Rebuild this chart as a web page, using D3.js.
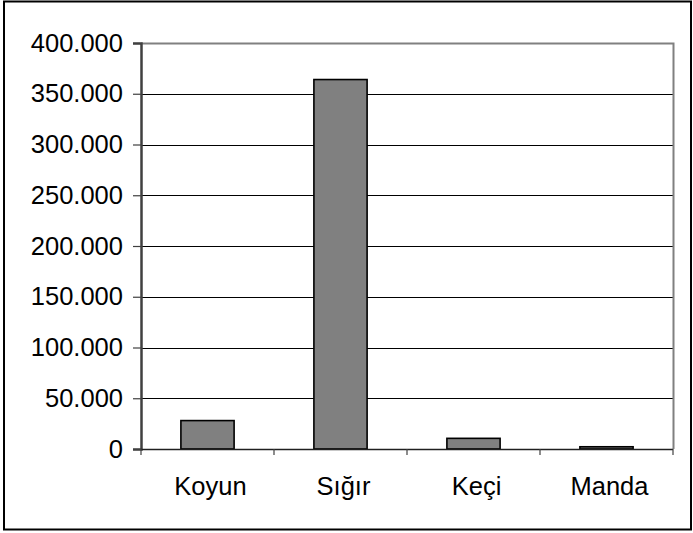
<!DOCTYPE html>
<html><head><meta charset="utf-8">
<script src="https://cdn.jsdelivr.net/npm/d3@7"></script>
<style>body{margin:0;background:#fff}svg{display:block}</style>
</head><body>
<svg id="c" width="693" height="533"></svg>
<script>
const categories = ["Koyun", "Sığır", "Keçi", "Manda"];
const values = [28000, 364000, 10500, 2200];
const yTicks = [0, 50000, 100000, 150000, 200000, 250000, 300000, 350000, 400000];
const yTickLabels = ["0", "50.000", "100.000", "150.000", "200.000", "250.000", "300.000", "350.000", "400.000"];

const svg = d3.select("#c");
const font = "'Liberation Sans', Arial, sans-serif";
const L = 141, R = 673, T = 43, B = 449;

svg.append("rect").attr("x", 4).attr("y", 1.5).attr("width", 687).attr("height", 528)
  .attr("fill", "#fff").attr("stroke", "#000").attr("stroke-width", 2);

const x = d3.scaleBand().domain(categories).range([L, R]).paddingInner(0.6).paddingOuter(0.3);
const xb = d3.scaleBand().domain(categories).range([L, R]);
const y = d3.scaleLinear().domain([0, 400000]).range([B, T]);

// gridlines
svg.append("g").selectAll("line").data(yTicks.slice(1, -1)).join("line")
  .attr("x1", L).attr("x2", R).attr("y1", d => Math.round(y(d)) + 0.5).attr("y2", d => Math.round(y(d)) + 0.5)
  .attr("stroke", "#000").attr("stroke-width", 1);
// plot border top/right
svg.append("path").attr("d", `M${L},${T + 0.5}H${R + 0.5}V${B}`)
  .attr("fill", "none").attr("stroke", "#808080").attr("stroke-width", 2);

// bars
svg.append("g").selectAll("rect").data(values).join("rect")
  .attr("x", (d, i) => x(categories[i]))
  .attr("width", x.bandwidth())
  .attr("y", d => y(d))
  .attr("height", d => B - y(d))
  .attr("fill", "#808080").attr("stroke", "#000").attr("stroke-width", 1.6);

// y axis
const yAxis = d3.axisLeft(y).tickValues(yTicks).tickFormat((d, i) => yTickLabels[i]).tickSize(8).tickPadding(10);
const gy = svg.append("g").attr("transform", `translate(${L},0)`).call(yAxis);
gy.select(".domain").attr("stroke", "#404040").attr("stroke-width", 2.5);
gy.selectAll(".tick line").attr("stroke", "#404040").attr("stroke-width", 1.2);
gy.selectAll("text").attr("font-family", font).attr("font-size", 25.5).attr("fill", "#000");

// x axis
const gx = svg.append("g").attr("transform", `translate(0,${B})`);
gx.append("line").attr("x1", L).attr("x2", R).attr("y1", 0.5).attr("y2", 0.5).attr("stroke", "#202020").attr("stroke-width", 1.5);
const tickXs = categories.map(c => xb(c)).concat([R]);
gx.selectAll("line.t").data(tickXs).join("line").attr("class", "t")
  .attr("x1", d => d).attr("x2", d => d).attr("y1", 0).attr("y2", 6)
  .attr("stroke", "#404040").attr("stroke-width", 1.2);
gx.selectAll("text").data(categories).join("text")
  .attr("x", d => xb(d) + xb.bandwidth() / 2 + 3)
  .attr("y", 46)
  .attr("text-anchor", "middle")
  .attr("font-family", font).attr("font-size", 25.5).attr("fill", "#000")
  .text(d => d);
</script>
</body></html>
